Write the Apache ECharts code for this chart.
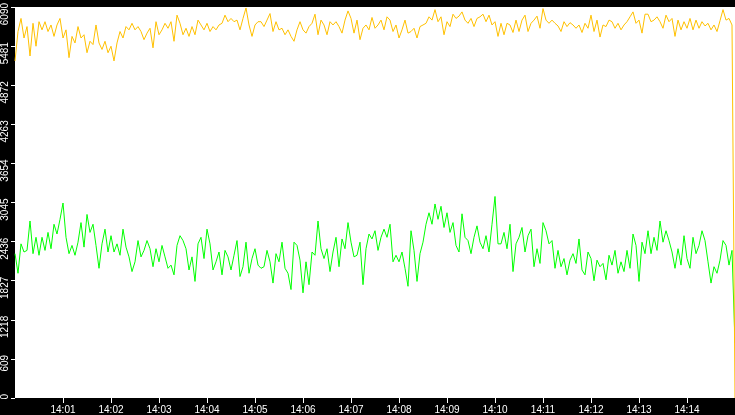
<!DOCTYPE html>
<html lang="en">
<head>
    <meta charset="UTF-8">
    <title>chart</title>
    <script src="https://cdn.jsdelivr.net/npm/echarts@6.0.0/dist/echarts.min.js"></script>
    <style>
        html, body { margin: 0; padding: 0; background: #000; }
        #chart { width: 735px; height: 415px; }
    </style>
</head>
<body>
<div id="chart"></div>
<script>
    // seconds from 14:00:00, one sample every 3.75 s
    var spanSeconds = 900;
    var yTicks = [0, 609, 1218, 1827, 2436, 3045, 3654, 4263, 4872, 5481, 6090];

    var greenValues = [
        2248, 1943, 2401, 2274, 2299, 2757, 2248, 2503, 2223, 2503,
        2299, 2579, 2325, 2706, 2554, 2783, 3037, 2503, 2248, 2376,
        2223, 2427, 2732, 2350, 2859, 2579, 2706, 2376, 2020, 2401,
        2630, 2274, 2528, 2274, 2401, 2223, 2630, 2350, 2198, 1969,
        2121, 2452, 2198, 2299, 2452, 2325, 2045, 2325, 2121, 2376,
        2198, 2020, 2070, 1918, 2376, 2528, 2452, 2325, 1994, 2198,
        1816, 2401, 2503, 2172, 2630, 2401, 1994, 2121, 2274, 1918,
        2299, 2198, 1994, 2223, 2452, 1892, 2045, 2427, 1943, 2172,
        2325, 2070, 2020, 2045, 2299, 2121, 1790, 2248, 2121, 2427,
        2020, 1943, 1689, 2427, 2376, 2147, 1638, 2121, 1765, 2274,
        2223, 2757, 2325, 2172, 2325, 1969, 2274, 2503, 2045, 2477,
        2325, 2732, 2427, 2198, 2223, 2427, 1765, 2325, 2554, 2477,
        2605, 2299, 2503, 2630, 2503, 2706, 2121, 2223, 2121, 2274,
        2020, 1740, 2605, 2299, 1816, 2248, 2427, 2706, 2885, 2706,
        3022, 2783, 2986, 2656, 2885, 2579, 2732, 2376, 2274, 2869,
        2503, 2452, 2248, 2503, 2681, 2427, 2325, 2528, 2274, 2706,
        3139, 2401, 2401, 2579, 2325, 2706, 1969, 2401, 2503, 2656,
        2274, 2528, 2630, 2045, 2325, 2096, 2732, 2605, 2401, 2452,
        2020, 2299, 2045, 2172, 1918, 2147, 2248, 2096, 2477, 1994,
        1918, 2274, 2172, 1826, 2147, 2045, 2096, 1841, 2223, 2070,
        2299, 1943, 2121, 1969, 2299, 2020, 2554, 2376, 1816, 2427,
        2248, 2605, 2248, 2503, 2299, 2757, 2427, 2605, 2452, 2274,
        2020, 2325, 2070, 2528, 2172, 2020, 2503, 2248, 2376, 2605,
        2452, 2121, 1790, 2045, 1943, 2147, 2452, 2376, 2070, 2299,
        855
    ];

    var yellowValues = [
        5250, 5708, 5912, 5607, 5785, 5327, 5836, 5479, 5861, 5734,
        5861, 5708, 5810, 5632, 5810, 5912, 5607, 5734, 5301, 5632,
        5530, 5785, 5607, 5658, 5378, 5556, 5505, 5810, 5530, 5429,
        5556, 5378, 5479, 5250, 5530, 5708, 5607, 5785, 5734, 5836,
        5734, 5785, 5708, 5581, 5683, 5759, 5454, 5861, 5658, 5734,
        5836, 5759, 5861, 5556, 5963, 5836, 5658, 5759, 5632, 5785,
        5658, 5886, 5810, 5734, 5836, 5708, 5785, 5734, 5810, 5836,
        5963, 5861, 5912, 5861, 5886, 5734, 5912, 6075, 5810, 5632,
        5810, 5861, 5861, 5785, 5886, 5988, 5708, 5861, 5734, 5759,
        5658, 5734, 5632, 5556, 5734, 5861, 5734, 5683, 5785, 5836,
        5978, 5658, 5886, 5810, 5658, 5861, 5810, 5861, 5785, 5683,
        5886, 6029, 5912, 5683, 5886, 5581, 5759, 5810, 5734, 5927,
        5759, 5810, 5886, 5734, 5937, 5886, 5708, 5810, 5607, 5734,
        5886, 5683, 5708, 5759, 5607, 5785, 5810, 5836, 5937, 5886,
        6049, 5861, 5937, 5658, 5861, 5785, 5978, 5912, 5948, 6014,
        5886, 5836, 5912, 5785, 5912, 5937, 5978, 5861, 5963, 5810,
        5861, 5632, 5836, 5658, 5836, 5810, 5693, 5886, 5708, 5886,
        5963, 5708, 5836, 5886, 5948, 5759, 6065, 5886, 5836, 5886,
        5836, 5795, 5708, 5861, 5785, 5846, 5810, 5759, 5810, 5693,
        5836, 5759, 5963, 5708, 5886, 5622, 5810, 5785, 5886, 5861,
        5759, 5836, 5734, 5810, 5861, 5937, 6014, 5836, 5886, 5683,
        5978, 5978, 5861, 5886, 5937, 5861, 5759, 5963, 5861, 5912,
        5632, 5886, 5734, 5861, 5759, 5912, 5734, 5886, 5759, 5861,
        5795, 5836, 5734, 5810, 5708, 5876, 6049, 5886, 5912, 5810,
        0
    ];

    function toPoints(values) {
        var step = spanSeconds / (values.length - 1);
        return values.map(function (v, i) { return [i * step, v]; });
    }

    function minuteLabel(sec) {
        var m = Math.round(sec / 60);
        return '14:' + (m < 10 ? '0' + m : m);
    }

    var chart = echarts.init(document.getElementById('chart'));
    chart.setOption({
        animation: false,
        backgroundColor: '#000',
        textStyle: { fontFamily: 'Liberation Sans' },
        grid: {
            left: 15, right: 0, top: 0, bottom: 16,
            show: true, backgroundColor: '#fff', borderWidth: 0
        },
        xAxis: {
            type: 'value',
            min: 0,
            max: spanSeconds,
            interval: 60,
            axisLine: { show: false },
            axisTick: { show: true, length: 5, lineStyle: { color: '#fff', width: 1 } },
            splitLine: { show: false },
            axisLabel: {
                color: '#fff', fontSize: 10, margin: 7,
                fontFamily: 'Liberation Sans',
                showMinLabel: false, showMaxLabel: false,
                formatter: minuteLabel
            }
        },
        yAxis: {
            type: 'value',
            min: yTicks[0],
            max: yTicks[yTicks.length - 1],
            interval: yTicks[1] - yTicks[0],
            axisLine: { show: false },
            axisTick: { show: true, length: 4, lineStyle: { color: '#fff', width: 1 } },
            splitLine: { show: false },
            axisLabel: {
                color: '#fff', fontSize: 10, margin: 10,
                fontFamily: 'Liberation Sans',
                rotate: 90, align: 'right', verticalAlign: 'middle',
                padding: [0, -4, 0, 0],
                formatter: function (v) { return String(v); }
            }
        },
        series: [
            {
                type: 'line',
                data: toPoints(greenValues),
                showSymbol: false,
                lineStyle: { color: '#00ff00', width: 1 },
                itemStyle: { color: '#00ff00' }
            },
            {
                type: 'line',
                data: toPoints(yellowValues),
                showSymbol: false,
                lineStyle: { color: '#ffc000', width: 1 },
                itemStyle: { color: '#ffc000' }
            }
        ]
    });
</script>
</body>
</html>
